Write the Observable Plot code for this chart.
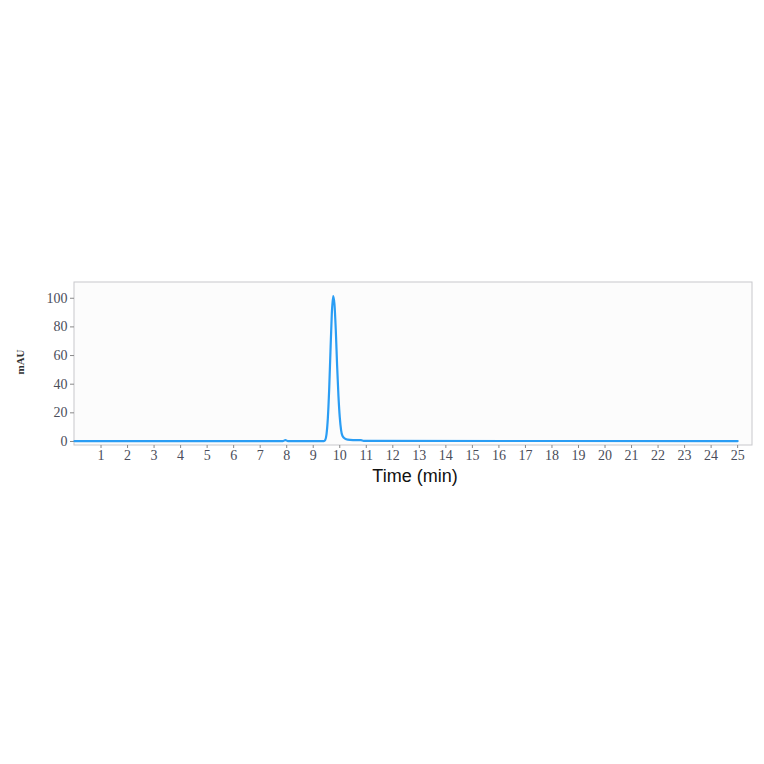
<!DOCTYPE html>
<html><head><meta charset="utf-8">
<script src="https://cdn.jsdelivr.net/npm/d3@7"></script>
<script src="https://cdn.jsdelivr.net/npm/@observablehq/plot@0.6"></script>
<style>
body{margin:0;background:#fff;}
#wrap{position:absolute;left:0;top:270px;width:764px;}
</style></head>
<body><div id="wrap"></div>
<script>
const times = [0, 7.85, 7.95, 8.05, 9.40, 9.45, 9.50, 9.55, 9.60, 9.65, 9.70, 9.75, 9.80, 9.85, 9.90, 9.95, 10.00, 10.05, 10.10, 10.20, 10.30, 10.50, 10.80, 10.90, 25];
const mAU   = [0.3, 0.3, 0.9, 0.3, 0.3, 1, 5, 16, 36, 63, 89, 101.5, 96, 78, 53, 32, 17, 8, 4, 2, 1.3, 1.0, 0.9, 0.4, 0.3];
const xTicks = d3.range(1, 26);
const yTicks = [0, 20, 40, 60, 80, 100];

const data = times.map((t, i) => ({t, v: mAU[i]}));

const chart = Plot.plot({
  width: 764, height: 220,
  marginLeft: 74, marginRight: 12, marginTop: 12, marginBottom: 45,
  style: {background: "transparent", fontFamily: "'Liberation Serif', serif", fontSize: "14px", color: "#4a4d5a"},
  x: {domain: [0, 25.56], label: null},
  y: {domain: [-2.8, 111], label: null},
  marks: [
    Plot.rect([0], {x1: 0, x2: 25.56, y1: -2.8, y2: 111, fill: "#fcfcfc", stroke: "#c8c8cc", strokeWidth: 1}),
    Plot.axisX({ticks: xTicks, tickSize: 3, tickPadding: 2, stroke: "#888", fill: "#4a4d5a", label: null}),
    Plot.axisY({ticks: yTicks, tickSize: 4, tickPadding: 3, stroke: "#888", fill: "#4a4d5a", label: null}),
    Plot.line(data, {x: "t", y: "v", stroke: "#2a9df4", strokeWidth: 2.2, curve: "monotone-x"})
  ]
});
document.getElementById("wrap").appendChild(chart);

const svg = d3.select(chart);
svg.append("text").attr("x", 415).attr("y", 212).attr("text-anchor", "middle")
  .style("font-family", "'Liberation Sans', Arial, sans-serif").style("font-size", "18px").style("fill", "#111")
  .text("Time (min)");
svg.append("text").attr("transform", "translate(24,92) rotate(-90)").attr("text-anchor", "middle")
  .style("font-family", "'Liberation Serif', serif").style("font-size", "11px").style("font-weight", "bold").style("fill", "#333")
  .text("mAU");
</script>
</body></html>
